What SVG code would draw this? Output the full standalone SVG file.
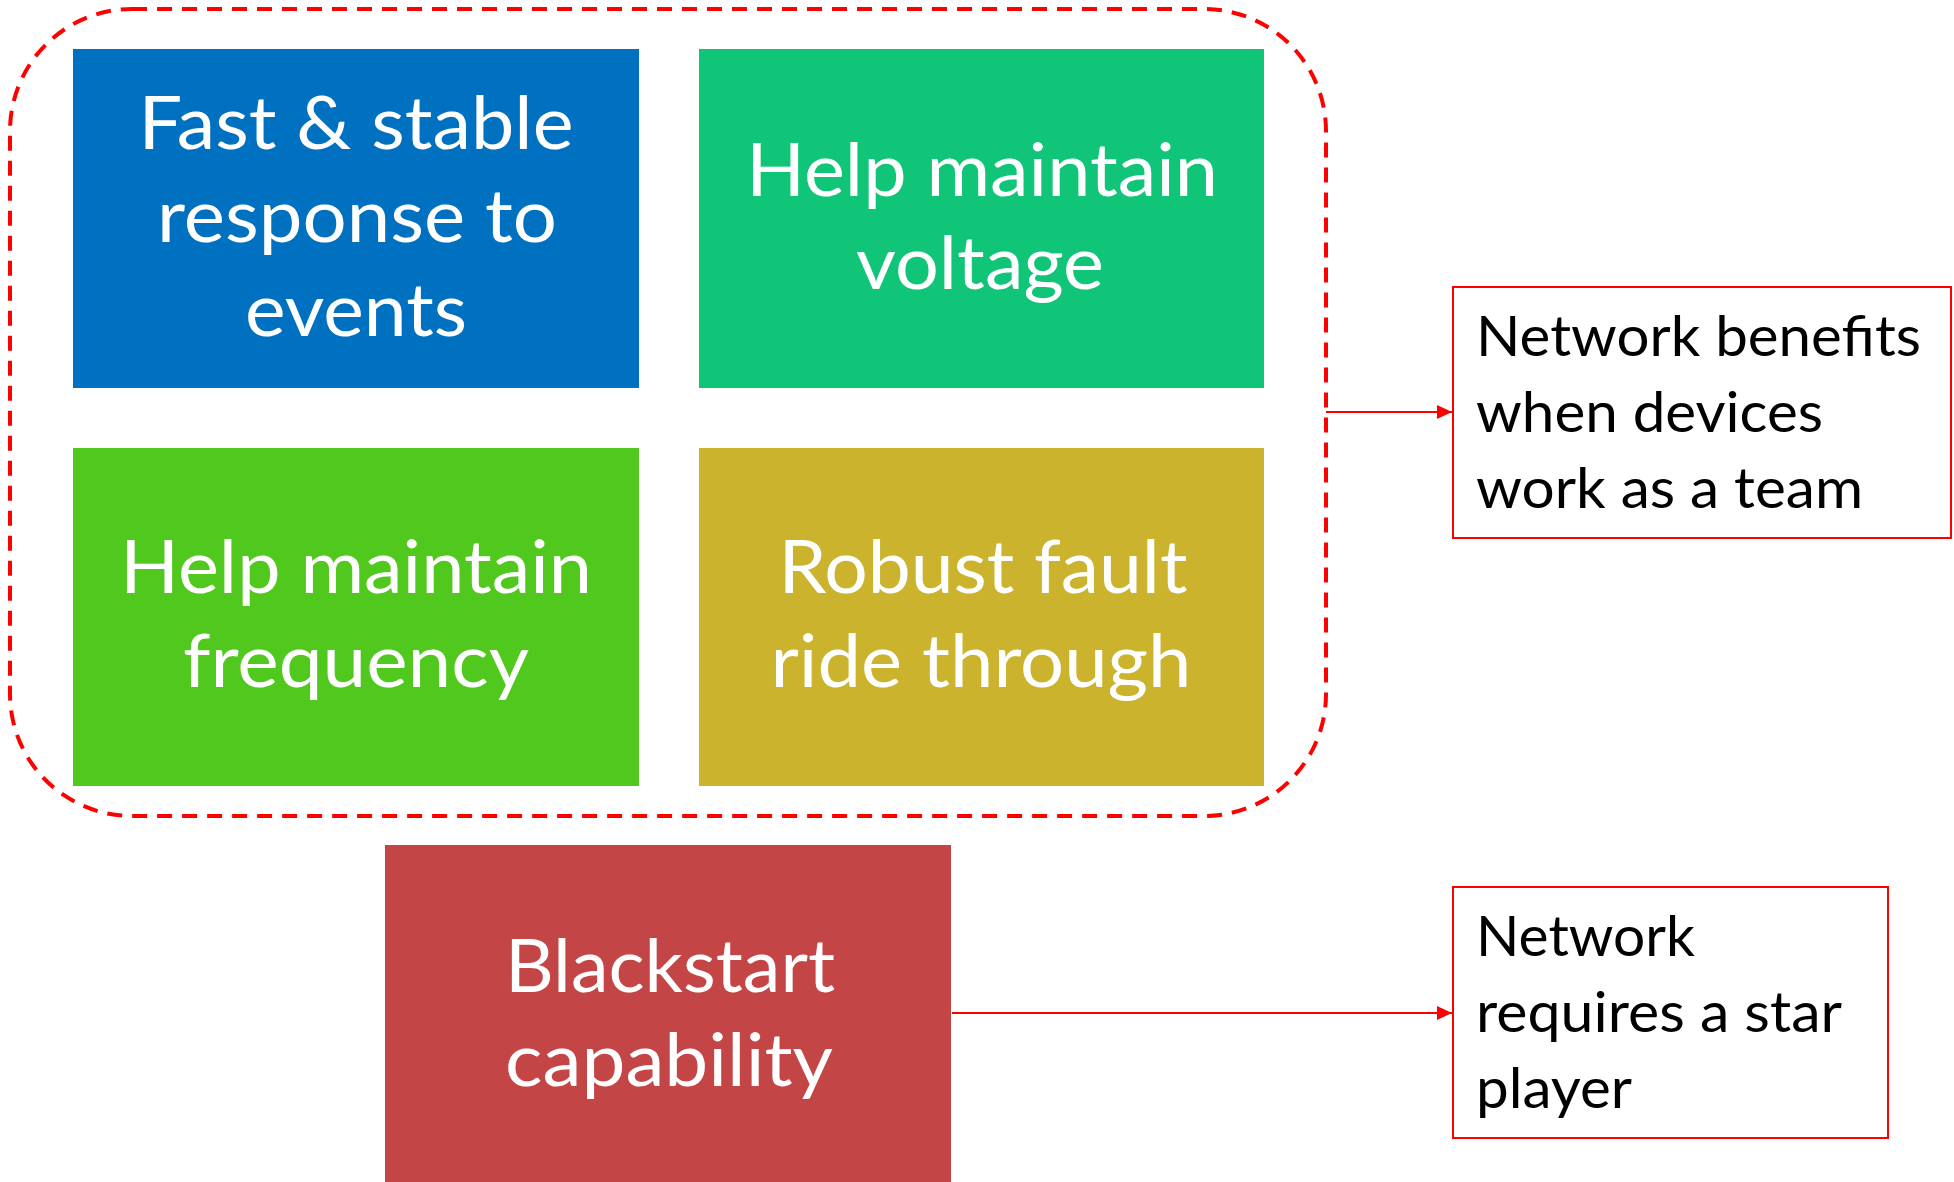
<svg xmlns="http://www.w3.org/2000/svg" width="1954" height="1182" viewBox="0 0 1954 1182">
<defs>
<style>
.big{font-family:Lato,"Open Sans","Liberation Sans",sans-serif;font-size:74px;fill:#ffffff;text-anchor:middle}
.small{font-family:Lato,"Open Sans","Liberation Sans",sans-serif;font-size:56px;fill:#000000}
.note{fill:#ffffff;stroke:#ff0000;stroke-width:2}
.conn{stroke:#ff0000;stroke-width:2;fill:none}
</style>
<marker id="arrow" viewBox="0 0 15 14" refX="15" refY="7" markerWidth="15" markerHeight="14" markerUnits="userSpaceOnUse" orient="auto">
<path d="M0,0 L15,7 L0,14 Z" fill="#ff0000"/>
</marker>
</defs>
<rect width="1954" height="1182" fill="#ffffff"/>
<g id="team-group">
<rect x="10" y="9" width="1316" height="807" rx="122" ry="122" fill="none" stroke="#ff0000" stroke-width="4" stroke-dasharray="15 10"/>
</g>
<g id="fast-stable">
<rect x="73" y="49" width="566" height="339" fill="#0070c0"/>
<text class="big" x="356" y="149" textLength="435" lengthAdjust="spacingAndGlyphs">Fast &amp; stable</text>
<text class="big" x="357" y="242" textLength="400" lengthAdjust="spacingAndGlyphs">response to</text>
<text class="big" x="356" y="336" textLength="222" lengthAdjust="spacingAndGlyphs">events</text>
</g>
<g id="voltage">
<rect x="699" y="49" width="565" height="339" fill="#10c577"/>
<text class="big" x="982" y="196" textLength="472" lengthAdjust="spacingAndGlyphs">Help maintain</text>
<text class="big" x="980" y="289" textLength="248" lengthAdjust="spacingAndGlyphs">voltage</text>
</g>
<g id="frequency">
<rect x="73" y="448" width="566" height="338" fill="#50c81e"/>
<text class="big" x="356" y="593" textLength="472" lengthAdjust="spacingAndGlyphs">Help maintain</text>
<text class="big" x="356" y="687" textLength="346" lengthAdjust="spacingAndGlyphs">frequency</text>
</g>
<g id="fault-ride-through">
<rect x="699" y="448" width="565" height="338" fill="#cbb32d"/>
<text class="big" x="983" y="593" textLength="409" lengthAdjust="spacingAndGlyphs">Robust fault</text>
<text class="big" x="981" y="687" textLength="421" lengthAdjust="spacingAndGlyphs">ride through</text>
</g>
<g id="blackstart">
<rect x="385" y="845" width="566" height="337" fill="#c44545"/>
<text class="big" x="670" y="992" textLength="330" lengthAdjust="spacingAndGlyphs">Blackstart</text>
<text class="big" x="669" y="1086" textLength="328" lengthAdjust="spacingAndGlyphs">capability</text>
</g>
<g id="team-note">
<rect class="note" x="1453" y="287" width="498" height="251"/>
<text class="small" x="1476" y="356" textLength="445" lengthAdjust="spacingAndGlyphs">Network benefits</text>
<text class="small" x="1476" y="432" textLength="347" lengthAdjust="spacingAndGlyphs">when devices</text>
<text class="small" x="1476" y="508" textLength="387" lengthAdjust="spacingAndGlyphs">work as a team</text>
</g>
<g id="star-note">
<rect class="note" x="1453" y="887" width="435" height="251"/>
<text class="small" x="1476" y="956" textLength="219" lengthAdjust="spacingAndGlyphs">Network</text>
<text class="small" x="1476" y="1032" textLength="366" lengthAdjust="spacingAndGlyphs">requires a star</text>
<text class="small" x="1476" y="1108" textLength="156" lengthAdjust="spacingAndGlyphs">player</text>
</g>
<g id="connectors">
<line class="conn" x1="1326" y1="412" x2="1452" y2="412" marker-end="url(#arrow)"/>
<line class="conn" x1="952" y1="1013" x2="1452" y2="1013" marker-end="url(#arrow)"/>
</g>
</svg>
